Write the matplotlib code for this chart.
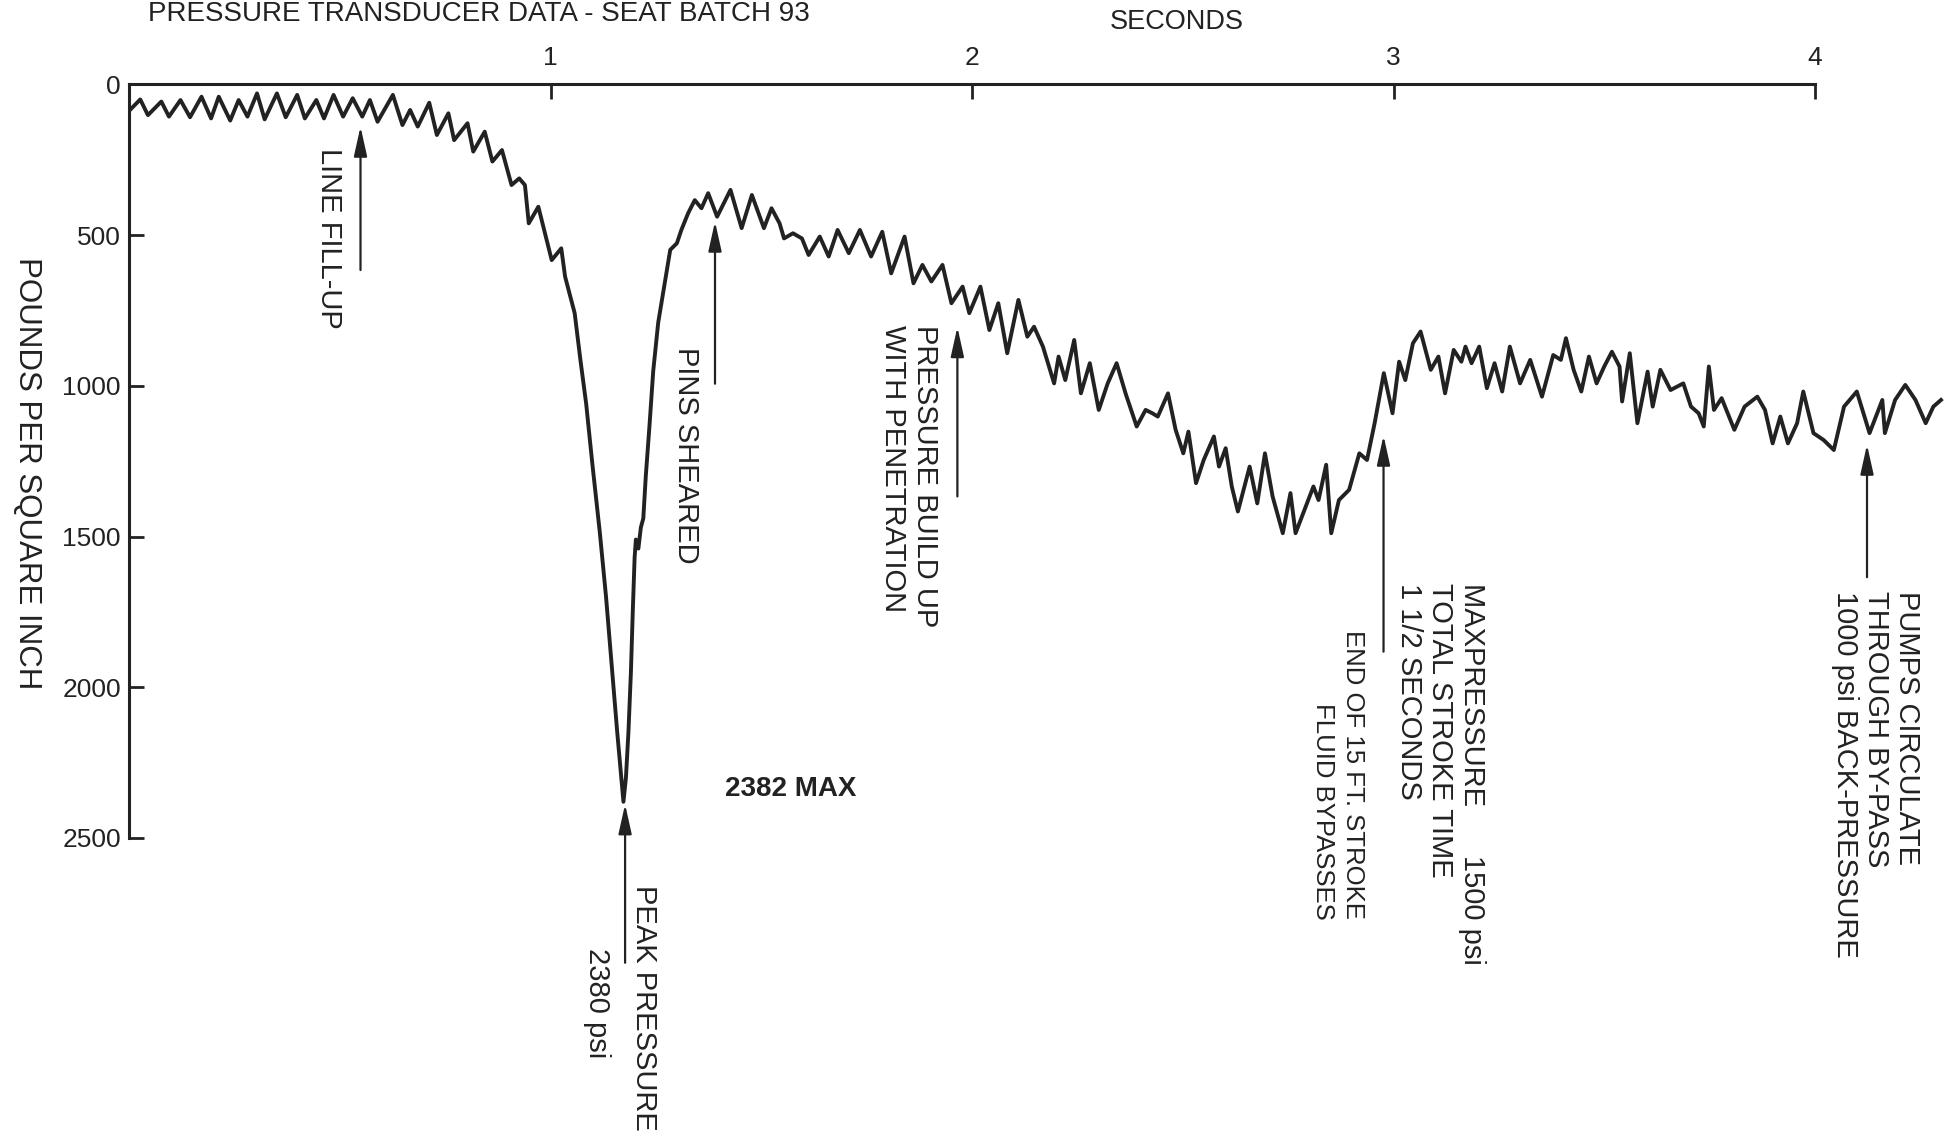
import matplotlib
matplotlib.use("Agg")
import matplotlib.pyplot as plt

plt.rcParams['font.family'] = ['Liberation Sans', 'DejaVu Sans']

# transducer trace: seconds vs psi
time_s = [
    0.002, 0.0265, 0.0447, 0.0765, 0.0946, 0.1219, 0.1446, 0.1718, 0.1945, 0.2127,
    0.2399, 0.2599, 0.2808, 0.3035, 0.3216, 0.3507, 0.3716, 0.3988, 0.4170, 0.4442,
    0.4624, 0.4851, 0.5078, 0.5305, 0.5532, 0.5713, 0.5895, 0.6258, 0.6485, 0.6667,
    0.6848, 0.7121, 0.7302, 0.7575, 0.7711, 0.8029, 0.8165, 0.8437, 0.8619, 0.8846,
    0.9073, 0.9255, 0.9391, 0.9482, 0.9709, 1.0026, 1.0253, 1.0344, 1.0571, 1.0707,
    # the pressure spike
    1.0844, 1.0991, 1.1168, 1.1315, 1.1463, 1.1581, 1.1669, 1.1728, 1.1787, 1.1846,
    1.1905, 1.1949, 1.1993, 1.2023, 1.2082, 1.2141, 1.2199, 1.2258, 1.2347, 1.2435,
    1.2553,
    # pins sheared, build up with penetration
    1.2732, 1.2838, 1.2996, 1.3102, 1.3261, 1.3420, 1.3579, 1.3738, 1.3950, 1.4267,
    1.4532, 1.4775, 1.5061, 1.5241, 1.5432, 1.5538, 1.5750, 1.5962, 1.6121, 1.6385,
    1.6597, 1.6809, 1.7074, 1.7338, 1.7603, 1.7868, 1.8080, 1.8397, 1.8609, 1.8821,
    1.9033, 1.9297, 1.9509, 1.9774, 1.9933, 2.0197, 2.0409, 2.0621, 2.0833, 2.1098,
    2.1310, 2.1469, 2.1680, 2.1945, 2.2051, 2.2210, 2.2422, 2.2581, 2.2792, 2.3004,
    2.3216, 2.3428, 2.3640, 2.3904, 2.4116, 2.4275,
    # end of stroke and by-pass
    2.4405, 2.4647, 2.4828, 2.5010, 2.5131, 2.5312, 2.5494, 2.5736, 2.5857, 2.6015,
    2.6160, 2.6305, 2.6584, 2.6765, 2.6947, 2.7128, 2.7370, 2.7552, 2.7673, 2.7915,
    2.8097, 2.8218, 2.8399, 2.8520, 2.8702, 2.8944, 2.9186, 2.9368, 2.9549, 2.9767,
    2.9973, 3.0130, 3.0276, 3.0457, 3.0639, 3.0881, 3.1062, 3.1220, 3.1425, 3.1607,
    3.1704, 3.1849, 3.2030, 3.2212, 3.2394, 3.2575, 3.2757, 3.2999, 3.3240, 3.3519,
    3.3786, 3.3967, 3.4088, 3.4270, 3.4452, 3.4633, 3.4815, 3.4996, 3.5178, 3.5359,
    3.5420, 3.5602, 3.5783, 3.6025, 3.6146, 3.6328, 3.6570, 3.6872, 3.7054, 3.7235,
    3.7357, 3.7478, 3.7599, 3.7781, 3.8083, 3.8325, 3.8628, 3.8810, 3.8991, 3.9173,
    3.9354, 3.9572, 3.9718, 3.9960, 4.0202, 4.0443, 4.0685, 4.0988, 4.1290, 4.1593,
    4.1654, 4.1896, 4.2138, 4.2380, 4.2622, 4.2804, 4.2985,
]
psi = [
    85, 50, 102, 57, 107, 52, 109, 41, 113, 41,
    120, 52, 107, 30, 116, 30, 109, 35, 113, 52,
    113, 35, 107, 46, 107, 52, 124, 35, 135, 85,
    140, 61, 168, 96, 185, 129, 223, 157, 256, 218,
    334, 312, 334, 461, 406, 583, 544, 638, 759, 914,
    1060, 1260, 1487, 1700, 1950, 2150, 2290, 2380, 2300, 2150,
    1950, 1750, 1570, 1510, 1540, 1470, 1440, 1300, 1130, 950,
    790,
    638, 549, 527, 483, 428, 384, 411, 361, 439, 350,
    477, 367, 477, 411, 461, 511, 494, 511, 566, 505,
    571, 483, 560, 483, 571, 489, 627, 505, 660, 599,
    654, 599, 726, 671, 759, 671, 815, 726, 892, 715,
    837, 804, 870, 992, 903, 981, 848, 1025, 925, 1080,
    992, 925, 1025, 1135, 1080, 1091,
    1102, 1025, 1146, 1224, 1152, 1323, 1246, 1168, 1268, 1207,
    1334, 1417, 1268, 1390, 1224, 1367, 1489, 1356, 1489, 1401,
    1334, 1379, 1262, 1489, 1379, 1345, 1224, 1246, 1124, 958,
    1091, 920, 981, 859, 820, 947, 903, 1025, 881, 920,
    870, 925, 870, 1008, 925, 1019, 870, 992, 914, 1036,
    898, 914, 842, 947, 1019, 903, 992, 936, 887, 936,
    1052, 892, 1124, 953, 1069, 947, 1014, 992, 1069, 1091,
    1135, 936, 1080, 1041, 1146, 1069, 1036, 1080, 1191, 1102,
    1191, 1124, 1019, 1157, 1180, 1213, 1069, 1019, 1157, 1047,
    1157, 1047, 997, 1047, 1124, 1069, 1047,
]

x_ticks = [1, 2, 3, 4]
y_ticks = [0, 500, 1000, 1500, 2000, 2500]

INK = '#222222'
NOTE_SIZE = 21

fig = plt.figure(figsize=(19.47, 11.37), dpi=100)
ax = fig.add_axes([0.0663, 0.263, 0.9331, 0.6628])

ax.plot(time_s, psi, color=INK, lw=2.8, solid_joinstyle='round')

ax.set_xlim(0, 4.31)
ax.set_ylim(2500, 0)
ax.xaxis.tick_top()
ax.set_xticks(x_ticks)
ax.set_yticks(y_ticks)
ax.tick_params(axis='both', direction='in', length=11, width=2, colors=INK,
               labelsize=19)
ax.tick_params(axis='x', pad=10)
ax.tick_params(axis='y', pad=6)

for side in ['right', 'bottom']:
    ax.spines[side].set_visible(False)
for side in ['left', 'top']:
    ax.spines[side].set_linewidth(2.2)
    ax.spines[side].set_color(INK)
ax.spines['top'].set_bounds(0, 4)

fig.text(0.0760, 0.9995, 'PRESSURE TRANSDUCER DATA - SEAT BATCH 93',
         fontsize=20, color=INK, va='top', ha='left')
fig.text(0.6045, 0.9810, 'SECONDS', fontsize=19.5, color=INK, ha='center', va='center')
fig.text(0.0139, 0.584, 'POUNDS PER SQUARE INCH', fontsize=22.5, color=INK,
         rotation=-90, ha='center', va='center')


def arrow(x, tip, tail):
    ax.annotate('', xy=(x, tip), xytext=(x, tail), annotation_clip=False,
                arrowprops=dict(arrowstyle='-|>,head_length=0.9,head_width=0.2',
                                mutation_scale=20, lw=1.6, color=INK,
                                shrinkA=0, shrinkB=0))


def note(x, y, s, va='top', align='left', **kw):
    opts = dict(fontsize=NOTE_SIZE, linespacing=1.15)
    opts.update(kw)
    ax.text(x, y, s, rotation=-90, ha='center', va=va, multialignment=align,
            color=INK, clip_on=False, **opts)


arrow(0.549, 140, 616)
note(0.4733, 212, 'LINE FILL-UP')

arrow(1.39, 455, 993)
note(1.322, 870, 'PINS SHEARED')

arrow(1.965, 805, 1367)
note(1.850, 798, 'PRESSURE BUILD UP\nWITH PENETRATION')

arrow(2.976, 1165, 1882)
note(2.868, 2770, 'END OF 15 FT. STROKE\nFLUID BYPASSES', va='bottom', align='right',
     fontsize=18.5, linespacing=1.33)

note(3.111, 1655, 'MAXPRESSURE      1500 psi\nTOTAL STROKE TIME\n1 1/2 SECONDS')

arrow(4.123, 1195, 1635)
note(4.144, 1680, 'PUMPS CIRCULATE\nTHROUGH BY-PASS\n1000 psi BACK-PRESSURE')

arrow(1.1767, 2388, 2914)
note(1.222, 2655, 'PEAK PRESSURE')
note(1.1103, 2865, '2380 psi')

ax.text(1.570, 2339, '2382 MAX', fontsize=20, fontweight='bold', color=INK,
        ha='center', va='center')

fig.savefig('out.png', dpi=100, facecolor='white')
